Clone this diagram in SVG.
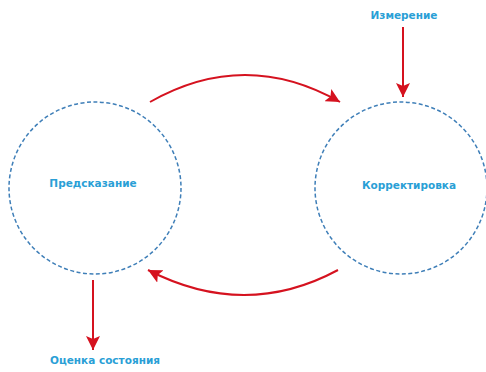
<svg xmlns="http://www.w3.org/2000/svg" width="486" height="372" viewBox="0 0 486 372">
<style>
.node{fill:none;stroke:#3f7fb8;stroke-width:1.5;stroke-dasharray:4 2.5}
.lbl{font-family:"DejaVu Sans",sans-serif;font-weight:bold;font-size:10.5px;fill:#2a9fd6;text-anchor:middle}
.arr{fill:none;stroke:#d5121f;stroke-width:2;marker-end:url(#ah)}
</style>
<defs>
<marker id="ah" markerUnits="userSpaceOnUse" markerWidth="16" markerHeight="14" refX="14" refY="7" orient="auto">
<path d="M0,0 L14,7 L0,14 L3,7 Z" fill="#d5121f"/>
</marker>
</defs>
<rect width="486" height="372" fill="#fff"/>
<g id="predict">
<circle class="node" cx="95" cy="188" r="86"/>
<text class="lbl" x="93" y="187">Предсказание</text>
</g>
<g id="correct">
<circle class="node" cx="401" cy="188" r="86"/>
<text class="lbl" x="409" y="189">Корректировка</text>
</g>
<g id="measure">
<text class="lbl" x="404" y="19">Измерение</text>
</g>
<g id="estimate">
<text class="lbl" x="105" y="364">Оценка состояния</text>
</g>
<g id="connectors">
<path class="arr" d="M150,102 Q245,48 340,102"/>
<path class="arr" d="M338,270 Q245,320 148,270"/>
<path class="arr" d="M403,27 L403,97"/>
<path class="arr" d="M93,280 L93,350"/>
</g>
</svg>
